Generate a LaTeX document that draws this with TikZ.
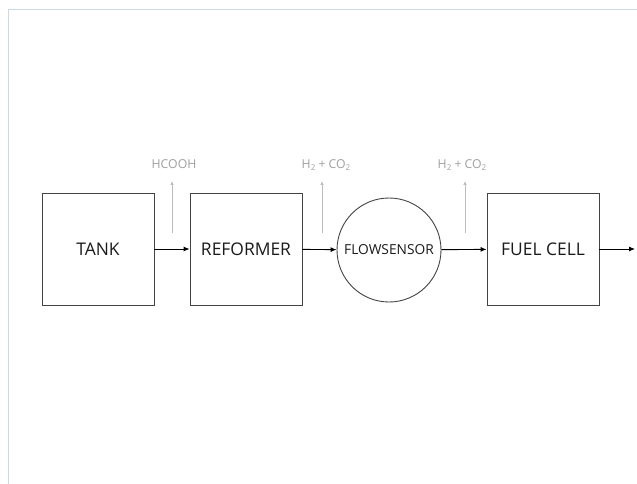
\documentclass[tikz,border=0pt]{standalone}
\usepackage{fontspec}
\setmainfont{Open Sans}
\usetikzlibrary{arrows.meta}
\definecolor{framec}{HTML}{CAD9E2}
\definecolor{boxc}{HTML}{444444}
\definecolor{greyc}{HTML}{A0A0A0}
\definecolor{txtc}{HTML}{1A1A1A}
\begin{document}
\begin{tikzpicture}[x=1bp,y=-1bp,
  blk/.style={draw=boxc,line width=0.9bp,minimum width=112bp,minimum height=112bp,inner sep=0pt,text=txtc,font=\fontsize{17.5}{20}\selectfont},
  circ/.style={draw=boxc,line width=0.9bp,circle,minimum size=104bp,inner sep=0pt,text=txtc,font=\fontsize{13.8}{16}\selectfont},
  flow/.style={-{Latex[length=6bp,width=5bp]},line width=0.9bp,black},
  gas/.style={-{Latex[length=4bp,width=3.5bp]},line width=0.7bp,greyc!70},
  lbl/.style={text=greyc,font=\fontsize{12.3}{14}\selectfont,inner sep=0pt}]
\useasboundingbox (0,0) rectangle (637,484);
\fill[white] (0,0) rectangle (637,484);
\draw[framec,line width=0.8bp] (8,484) -- (8,9) -- (637,9);
\node[blk] (tank) at (98,249) {TANK};
\node[blk] (ref) at (246,249) {REFORMER};
\node[circ] (fs) at (389,250) {FLOWSENSOR};
\node[blk] (fc) at (543,249) {FUEL CELL};
\coordinate (out) at (635,249);
\draw[flow] (tank) -- (ref);
\draw[flow] (ref) -- (fs);
\draw[flow] (fs) -- (fc);
\draw[flow] (fc) -- (out);
\coordinate (g1a) at (172,233); \coordinate (g1b) at (172,181);
\coordinate (g2a) at (322,233); \coordinate (g2b) at (322,181);
\coordinate (g3a) at (465,233); \coordinate (g3b) at (465,181);
\draw[gas] (g1a) -- (g1b);
\draw[gas] (g2a) -- (g2b);
\draw[gas] (g3a) -- (g3b);
\node[lbl] (l1) at (174,164) {HCOOH};
\node[lbl] (l2) at (326,165) {H\raisebox{-0.35ex}{\fontsize{8}{9}\selectfont 2} + CO\raisebox{-0.35ex}{\fontsize{8}{9}\selectfont 2}};
\node[lbl] (l3) at (462,165) {H\raisebox{-0.35ex}{\fontsize{8}{9}\selectfont 2} + CO\raisebox{-0.35ex}{\fontsize{8}{9}\selectfont 2}};
\end{tikzpicture}
\end{document}
